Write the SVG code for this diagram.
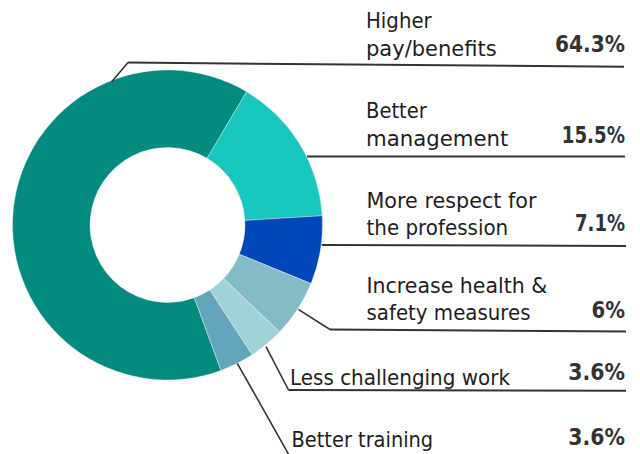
<svg xmlns="http://www.w3.org/2000/svg" width="640" height="454" viewBox="0 0 640 454">
<style>
.lbl{font-family:"DejaVu Sans","Liberation Sans",sans-serif;font-size:21px;fill:#1e1e1e}
.pct{font-family:"DejaVu Sans","Liberation Sans",sans-serif;font-size:22.5px;font-weight:bold;fill:#333;text-anchor:end}
.slice{stroke:#ffffff;stroke-width:0.6;stroke-opacity:0.6}
.lead{fill:none;stroke:#333;stroke-width:1.6}
.rule{fill:none;stroke:#333;stroke-width:2}
</style>
<rect width="640" height="454" fill="#ffffff"/>
<g id="donut">
<path id="slice-pay" class="slice" fill="#038B80" d="M221.02,370.47 A155,155 0 1 1 246.63,91.72 L207.07,158.36 A77.5,77.5 0 1 0 194.26,297.73 Z"/>
<path id="slice-management" class="slice" fill="#17C7BD" d="M246.63,91.72 A155,155 0 0 1 322.23,215.81 L244.86,220.40 A77.5,77.5 0 0 0 207.07,158.36 Z"/>
<path id="slice-respect" class="slice" fill="#0047BA" d="M322.23,215.81 A155,155 0 0 1 311.01,283.57 L239.25,254.28 A77.5,77.5 0 0 0 244.86,220.40 Z"/>
<path id="slice-health" class="slice" fill="#83BBC7" d="M311.01,283.57 A155,155 0 0 1 279.56,332.09 L223.53,278.54 A77.5,77.5 0 0 0 239.25,254.28 Z"/>
<path id="slice-less" class="slice" fill="#9FD3D7" d="M279.56,332.09 A155,155 0 0 1 252.15,354.85 L209.82,289.92 A77.5,77.5 0 0 0 223.53,278.54 Z"/>
<path id="slice-training" class="slice" fill="#63A6BB" d="M252.15,354.85 A155,155 0 0 1 221.02,370.47 L194.26,297.73 A77.5,77.5 0 0 0 209.82,289.92 Z"/>
</g>
<g id="connectors">
<polyline class="lead" points="111.7,81.7 128,62.6"/>
<line class="rule" x1="128" y1="62.6" x2="624" y2="66.8"/>
<line class="rule" x1="307" y1="156.5" x2="625" y2="156.5"/>
<line class="rule" x1="321.7" y1="245" x2="626" y2="246"/>
<polyline class="lead" points="298.3,309.3 330,329.5"/>
<line class="rule" x1="330" y1="329.5" x2="626" y2="331.5"/>
<polyline class="lead" points="266,346.7 288.5,390"/>
<line class="rule" x1="288.5" y1="390" x2="626" y2="390.7"/>
<polyline class="lead" points="237.3,363.3 289,455"/>
</g>
<g id="label-pay">
<text class="lbl" x="366" y="28" textLength="65.7" lengthAdjust="spacingAndGlyphs">Higher</text>
<text class="lbl" x="366" y="56" textLength="130.7" lengthAdjust="spacingAndGlyphs">pay/benefits</text>
<text class="pct" x="625" y="52" textLength="70" lengthAdjust="spacingAndGlyphs">64.3%</text>
</g>
<g id="label-management">
<text class="lbl" x="366" y="118" textLength="60.7" lengthAdjust="spacingAndGlyphs">Better</text>
<text class="lbl" x="366" y="146" textLength="142.3" lengthAdjust="spacingAndGlyphs">management</text>
<text class="pct" x="625" y="143" textLength="63.3" lengthAdjust="spacingAndGlyphs">15.5%</text>
</g>
<g id="label-respect">
<text class="lbl" x="366.5" y="208" textLength="170" lengthAdjust="spacingAndGlyphs">More respect for</text>
<text class="lbl" x="366.5" y="235" textLength="141.7" lengthAdjust="spacingAndGlyphs">the profession</text>
<text class="pct" x="625" y="231" textLength="50" lengthAdjust="spacingAndGlyphs">7.1%</text>
</g>
<g id="label-health">
<text class="lbl" x="366.5" y="293" textLength="180.7" lengthAdjust="spacingAndGlyphs">Increase health &amp;</text>
<text class="lbl" x="366.5" y="320" textLength="164" lengthAdjust="spacingAndGlyphs">safety measures</text>
<text class="pct" x="625" y="318" textLength="33.5" lengthAdjust="spacingAndGlyphs">6%</text>
</g>
<g id="label-less">
<text class="lbl" x="290" y="385" textLength="220" lengthAdjust="spacingAndGlyphs">Less challenging work</text>
<text class="pct" x="625" y="380" textLength="56.7" lengthAdjust="spacingAndGlyphs">3.6%</text>
</g>
<g id="label-training">
<text class="lbl" x="291.5" y="446.5" textLength="141.7" lengthAdjust="spacingAndGlyphs">Better training</text>
<text class="pct" x="625" y="445" textLength="56.7" lengthAdjust="spacingAndGlyphs">3.6%</text>
</g>
</svg>
